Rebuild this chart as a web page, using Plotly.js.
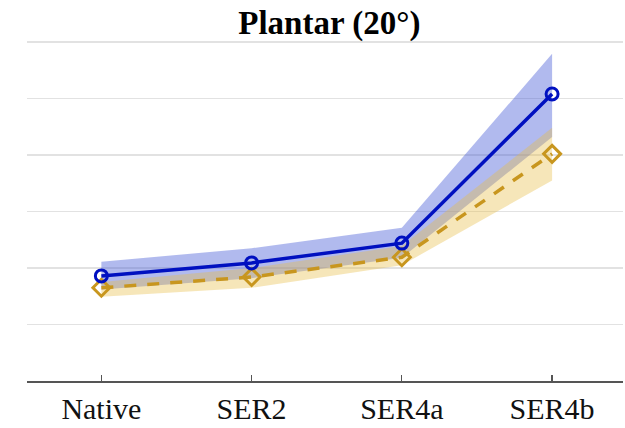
<!DOCTYPE html>
<html>
<head>
<meta charset="utf-8">
<script src="https://cdn.plot.ly/plotly-3.0.1.min.js"></script>
<style>html,body{margin:0;padding:0;background:#fff;}#chart{width:625px;height:428px;}</style>
</head>
<body>
<div id="chart"></div>
<script>
const categories = ["Native", "SER2", "SER4a", "SER4b"];
const blueMean  = [1.86, 2.09, 2.44, 5.08];
const blueUpper = [2.11, 2.35, 2.71, 5.79];
const blueLower = [1.62, 1.82, 2.18, 4.32];
const goldMean  = [1.65, 1.84, 2.19, 4.02];
const goldUpper = [1.75, 2.00, 2.39, 4.48];
const goldLower = [1.49, 1.65, 2.05, 3.55];

const rev = a => a.slice().reverse();
const bandX = categories.concat(rev(categories));

const traces = [
  {x: bandX, y: blueUpper.concat(rev(blueLower)), type: 'scatter', mode: 'lines',
   fill: 'toself', fillcolor: 'rgba(70,90,215,0.42)', line: {width: 0}, hoverinfo: 'skip', showlegend: false},
  {x: bandX, y: goldUpper.concat(rev(goldLower)), type: 'scatter', mode: 'lines',
   fill: 'toself', fillcolor: 'rgba(232,190,70,0.38)', line: {width: 0}, hoverinfo: 'skip', showlegend: false},
  {x: categories, y: goldMean, type: 'scatter', mode: 'lines+markers',
   line: {color: '#C8961E', width: 3.5, dash: '12px,11px'},
   marker: {symbol: 'diamond-open', size: 13, color: '#C8961E', line: {width: 3, color: '#C8961E'}},
   showlegend: false},
  {x: categories, y: blueMean, type: 'scatter', mode: 'lines+markers',
   line: {color: '#0010C0', width: 3.5},
   marker: {symbol: 'circle-open', size: 12, color: '#0010C0', line: {width: 3, color: '#0010C0'}},
   showlegend: false}
];

const layout = {
  width: 625, height: 428,
  margin: {l: 27, r: 2, t: 38, b: 47},
  paper_bgcolor: '#fff', plot_bgcolor: '#fff',
  title: {text: '<b>Plantar (20°)</b>', x: 0.527, xanchor: 'center', y: 0.948, yanchor: 'middle',
          font: {family: 'Liberation Serif, Times New Roman, serif', size: 33, color: '#000'}},
  xaxis: {type: 'category', range: [-0.495, 3.472], showline: true, linecolor: '#555', linewidth: 1.5,
          ticks: 'inside', ticklen: 6, tickcolor: '#555', tickwidth: 1.2, showgrid: false, zeroline: false,
          tickfont: {family: 'Liberation Serif, Times New Roman, serif', size: 30, color: '#111'}},
  yaxis: {range: [0, 6.07], dtick: 1, showticklabels: false, ticks: '', showgrid: true,
          gridcolor: '#e2e2e2', gridwidth: 1.2, zeroline: false, showline: false},
  hovermode: false
};

Plotly.newPlot('chart', traces, layout, {displayModeBar: false, staticPlot: true});
</script>
</body>
</html>
